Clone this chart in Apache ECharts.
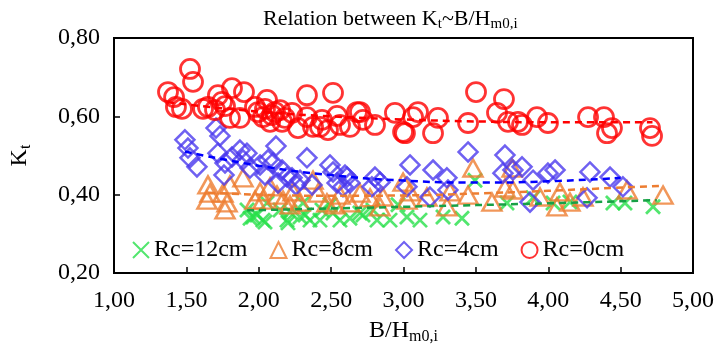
<!DOCTYPE html>
<html>
<head>
<meta charset="utf-8">
<script src="https://cdn.jsdelivr.net/npm/echarts/dist/echarts.min.js"></script>
<style>
  html, body { margin: 0; padding: 0; background: #fff; }
  #chart { width: 721px; height: 350px; }
</style>
</head>
<body>
<div id="chart"></div>
<script>
// B/Hm0,i vs Kt, one list per crest freeboard
const rc12 = [
  [1.919, 0.361], [1.960, 0.343], [2.029, 0.335], [2.057, 0.379], [1.940, 0.340],
  [1.988, 0.348], [2.043, 0.330], [2.147, 0.361], [2.195, 0.335], [2.216, 0.356],
  [2.202, 0.328], [2.285, 0.343], [2.306, 0.379], [2.320, 0.348], [2.354, 0.335],
  [2.437, 0.361], [2.423, 0.335], [2.492, 0.374], [2.513, 0.353], [2.561, 0.335],
  [2.630, 0.340], [2.699, 0.353], [2.720, 0.348], [2.789, 0.361], [2.817, 0.335],
  [2.907, 0.335], [2.962, 0.374], [3.024, 0.343], [3.114, 0.335], [3.273, 0.343],
  [3.404, 0.340], [3.494, 0.437], [3.715, 0.379], [3.895, 0.392], [4.033, 0.379],
  [4.150, 0.381], [4.447, 0.379], [4.530, 0.379], [4.724, 0.369]
]
const rc8 = [
  [1.649, 0.425], [1.663, 0.404], [1.642, 0.386], [1.753, 0.404], [1.781, 0.379],
  [1.767, 0.361], [1.801, 0.425], [1.891, 0.443], [1.974, 0.386], [2.009, 0.407],
  [2.078, 0.420], [2.029, 0.386], [2.126, 0.399], [2.168, 0.386], [2.216, 0.374],
  [2.237, 0.407], [2.285, 0.381], [2.375, 0.437], [2.409, 0.404], [2.471, 0.379],
  [2.527, 0.374], [2.561, 0.399], [2.630, 0.379], [2.699, 0.404], [2.769, 0.392],
  [2.838, 0.369], [2.858, 0.394], [2.997, 0.432], [3.045, 0.407], [3.024, 0.386],
  [3.162, 0.394], [3.300, 0.369], [3.321, 0.407], [3.446, 0.399], [3.480, 0.468],
  [3.611, 0.381], [3.701, 0.417], [3.756, 0.412], [3.750, 0.468], [3.943, 0.394],
  [4.060, 0.369], [4.081, 0.407], [4.150, 0.381], [4.240, 0.394], [4.544, 0.412],
  [4.793, 0.399]
]
const rc4 = [
  [1.490, 0.540], [1.511, 0.519], [1.525, 0.494], [1.573, 0.471], [1.705, 0.570],
  [1.732, 0.550], [1.718, 0.506], [1.767, 0.481], [1.760, 0.450], [1.815, 0.496],
  [1.870, 0.514], [1.891, 0.489], [1.918, 0.506], [1.940, 0.468], [2.009, 0.476],
  [2.043, 0.450], [2.064, 0.489], [2.119, 0.524], [2.098, 0.481], [2.161, 0.463],
  [2.195, 0.445], [2.133, 0.430], [2.230, 0.443], [2.257, 0.425], [2.285, 0.437],
  [2.333, 0.494], [2.368, 0.425], [2.492, 0.476], [2.513, 0.458], [2.541, 0.430],
  [2.610, 0.445], [2.582, 0.420], [2.596, 0.450], [2.630, 0.430], [2.803, 0.445],
  [2.838, 0.432], [2.782, 0.420], [3.024, 0.420], [3.045, 0.476], [3.183, 0.394],
  [3.204, 0.463], [3.300, 0.443], [3.307, 0.412], [3.446, 0.509], [3.687, 0.455],
  [3.701, 0.501], [3.756, 0.463], [3.819, 0.471], [3.874, 0.381], [3.895, 0.437],
  [3.998, 0.455], [4.047, 0.463], [4.268, 0.392], [4.288, 0.458], [4.427, 0.445],
  [4.516, 0.420]
]
const rc0 = [
  [1.373, 0.662], [1.415, 0.649], [1.428, 0.624], [1.470, 0.619], [1.525, 0.721],
  [1.546, 0.688], [1.615, 0.619], [1.649, 0.624], [1.698, 0.616], [1.718, 0.654],
  [1.746, 0.637], [1.767, 0.626], [1.801, 0.596], [1.815, 0.672], [1.870, 0.596],
  [1.898, 0.662], [1.974, 0.624], [1.995, 0.611], [2.029, 0.598], [2.043, 0.619],
  [2.057, 0.642], [2.078, 0.586], [2.092, 0.603], [2.112, 0.611], [2.147, 0.616],
  [2.161, 0.586], [2.181, 0.596], [2.230, 0.609], [2.271, 0.570], [2.333, 0.654],
  [2.333, 0.598], [2.375, 0.573], [2.423, 0.573], [2.437, 0.591], [2.478, 0.565],
  [2.513, 0.660], [2.541, 0.601], [2.561, 0.578], [2.630, 0.573], [2.679, 0.611],
  [2.699, 0.611], [2.720, 0.591], [2.803, 0.578], [2.941, 0.609], [2.997, 0.560],
  [3.010, 0.557], [3.066, 0.598], [3.100, 0.611], [3.204, 0.557], [3.238, 0.596],
  [3.446, 0.583], [3.501, 0.662], [3.646, 0.609], [3.694, 0.644], [3.722, 0.586],
  [3.791, 0.586], [3.819, 0.578], [3.922, 0.598], [3.998, 0.583], [4.275, 0.598],
  [4.385, 0.598], [4.440, 0.570], [4.406, 0.557], [4.703, 0.570], [4.717, 0.550]
]

// trend lines
const fit12 = [[1.92, 0.360], [3.0, 0.369], [4.0, 0.378], [4.75, 0.386]]
const fit8 = [[1.65, 0.405], [2.5, 0.397], [3.0, 0.398], [3.5, 0.403], [4.0, 0.410], [4.8, 0.423]]
const fit4 = [[1.49, 0.510], [2.0, 0.474], [2.5, 0.450], [3.0, 0.436], [3.5, 0.431], [4.0, 0.434], [4.5, 0.443]]
const fit0 = [[1.37, 0.636], [2.0, 0.612], [2.5, 0.600], [3.0, 0.592], [3.5, 0.587], [4.0, 0.585], [4.72, 0.585]]

const xTicks = { min: 1, max: 5, step: 0.5 }
const yTicks = { min: 0.2, max: 0.8, step: 0.2 }

const FONT = 'Liberation Serif'
const comma = v => v.toFixed(2).replace('.', ',')

const chart = echarts.init(document.getElementById('chart'))

const marker = (name, data, symbol, size, color, z, bw) => ({
  name,
  type: 'scatter',
  data,
  symbol,
  symbolSize: size,
  z,
  itemStyle: {
    color: 'rgba(0,0,0,0)',
    borderColor: color,
    borderWidth: bw || 2.5
  }
})
const trend = (data, color) => ({
  name: '',
  type: 'line',
  data,
  symbol: 'none',
  smooth: true,
  z: 10,
  silent: true,
  lineStyle: { color, width: 2.5, type: [7, 5] }
})

const option = {
  animation: false,
  textStyle: { fontFamily: FONT, color: '#000' },
  title: {
    text: 'Relation between K{s|t}~B/H{s|m0,i}',
    left: 258,
    top: 2,
    textStyle: {
      fontFamily: FONT,
      fontWeight: 'normal',
      fontSize: 22,
      color: '#000',
      rich: {
        s: { fontFamily: FONT, fontSize: 15, padding: [10, 0, 0, 0], color: '#000' }
      }
    }
  },
  grid: {
    left: 114, right: 28, top: 38, bottom: 77,
    show: true, borderColor: '#000', borderWidth: 2
  },
  legend: {
    data: ['Rc=12cm', 'Rc=8cm', 'Rc=4cm', 'Rc=0cm'],
    left: 127,
    top: 233,
    itemWidth: 16,
    itemHeight: 16,
    itemGap: 22,
    textStyle: { fontFamily: FONT, fontSize: 24, color: '#000' }
  },
  xAxis: {
    type: 'value',
    min: xTicks.min, max: xTicks.max, interval: xTicks.step,
    name: 'B/H{s|m0,i}',
    nameLocation: 'middle',
    nameGap: 44,
    nameTextStyle: {
      fontFamily: FONT, fontSize: 24, color: '#000',
      rich: { s: { fontFamily: FONT, fontSize: 16, padding: [12, 0, 0, 0], color: '#000' } }
    },
    axisLine: { lineStyle: { color: '#000', width: 2 } },
    axisTick: { inside: true, length: 6, lineStyle: { color: '#000', width: 1.5 } },
    axisLabel: { fontFamily: FONT, fontSize: 24, color: '#000', margin: 16, formatter: comma },
    splitLine: { show: false }
  },
  yAxis: {
    type: 'value',
    min: yTicks.min, max: yTicks.max, interval: yTicks.step,
    name: 'K{s|t}',
    nameLocation: 'middle',
    nameRotate: 90,
    nameGap: 80,
    nameTextStyle: {
      fontFamily: FONT, fontSize: 24, color: '#000',
      rich: { s: { fontFamily: FONT, fontSize: 16, padding: [12, 0, 0, 0], color: '#000' } }
    },
    axisLine: { lineStyle: { color: '#000', width: 2 } },
    axisTick: { inside: true, length: 6, lineStyle: { color: '#000', width: 1.5 } },
    axisLabel: { fontFamily: FONT, fontSize: 24, color: '#000', margin: 14, formatter: comma },
    splitLine: { show: false }
  },
  series: [
    marker('Rc=12cm', rc12, 'path://M0,0L10,10M10,0L0,10', 14, '#27e04a', 2, 2.8),
    marker('Rc=8cm', rc8, 'triangle', [19, 17], '#ed7d31', 3),
    marker('Rc=4cm', rc4, 'diamond', 19, '#4b3aee', 4),
    marker('Rc=0cm', rc0, 'circle', 19, '#ff0000', 5, 2.8),
    trend(fit12, '#17a046'),
    trend(fit8, '#ed7d31'),
    trend(fit4, '#0000ff'),
    trend(fit0, '#ff0000')
  ]
}

chart.setOption(option)
</script>
</body>
</html>
